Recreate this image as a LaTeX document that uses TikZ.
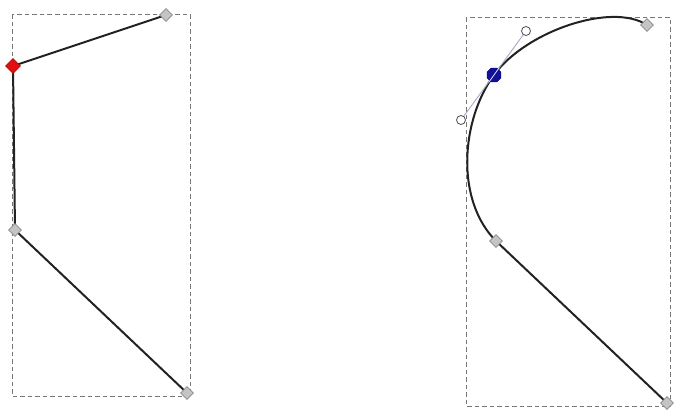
\documentclass[tikz,border=0pt]{standalone}
\usetikzlibrary{shapes.geometric}
\definecolor{pathcol}{HTML}{222222}
\definecolor{boxcol}{HTML}{777777}
\definecolor{nodegray}{HTML}{C4C4C4}
\definecolor{nodeedge}{HTML}{8A8A8A}
\definecolor{selred}{HTML}{E01010}
\definecolor{selblue}{HTML}{10109A}
\definecolor{handlecol}{HTML}{A8AAC8}
\tikzset{
  bbox/.style={draw=boxcol, line width=0.8pt, dash pattern=on 4.5pt off 3pt},
  seg/.style={draw=pathcol, line width=2pt},
  gnode/.style={diamond, fill=nodegray, draw=nodeedge, line width=0.6pt, inner sep=0pt, minimum width=13pt, minimum height=13pt},
  rnode/.style={diamond, fill=selred, draw=selred!80!black, line width=0.6pt, inner sep=0pt, minimum width=15pt, minimum height=15pt},
  bnode/.style={regular polygon, regular polygon sides=8, fill=selblue, draw=selblue!80!black, line width=0.5pt, inner sep=0pt, minimum size=15pt},
  hnode/.style={circle, fill=white, draw=pathcol!80, line width=0.8pt, inner sep=0pt, minimum size=9pt},
  hline/.style={draw=handlecol, line width=0.9pt}
}
\begin{document}
\begin{tikzpicture}[x=1pt,y=-1pt]
\useasboundingbox (0,0) rectangle (675,410);
% left figure
\draw[bbox] (12,14) rectangle (190,396);
\coordinate (a1) at (166,15);
\coordinate (a2) at (13,66);
\coordinate (a3) at (15,230);
\coordinate (a4) at (187,393);
\draw[seg] (a1) -- (a2) -- (a3) -- (a4);
\node[gnode] (n1) at (a1) {};
\node[rnode] (n2) at (a2) {};
\node[gnode] (n3) at (a3) {};
\node[gnode] (n4) at (a4) {};
% right figure
\draw[bbox] (466,17) rectangle (670,406);
\coordinate (b1) at (647,25);
\coordinate (b2) at (494,75);
\coordinate (b3) at (496,241);
\coordinate (b4) at (667,403);
\coordinate (h1) at (526,31);
\coordinate (h2) at (461,120);
\draw[seg] (b1) .. controls (612,2) and (h1) .. (b2)
           .. controls (h2) and (455,200) .. (b3) -- (b4);
\draw[hline] (h1) -- (h2);
\node[gnode] (m1) at (b1) {};
\node[bnode] (m2) at (b2) {};
\node[gnode] (m3) at (b3) {};
\node[gnode] (m4) at (b4) {};
\draw[draw=white!70!handlecol, line width=0.8pt] ([shift={(5,-7)}]m2.center) -- ([shift={(-5,7)}]m2.center);
\node[hnode] (k1) at (h1) {};
\node[hnode] (k2) at (h2) {};
\end{tikzpicture}
\end{document}
